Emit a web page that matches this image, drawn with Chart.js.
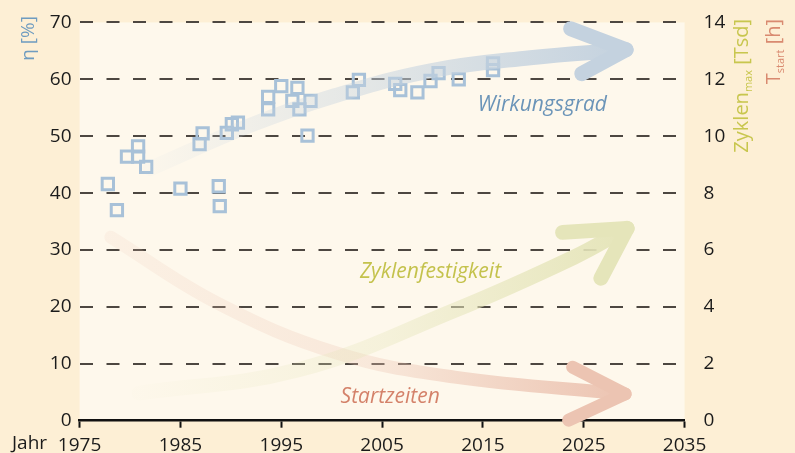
<!DOCTYPE html>
<html>
<head>
<meta charset="utf-8">
<script src="https://cdn.jsdelivr.net/npm/chart.js@4.4.1/dist/chart.umd.min.js"></script>
<style>
    html, body { margin: 0; padding: 0; background: #fdefd5; }
    #wrap { width: 795px; height: 453px; }
</style>
</head>
<body>
<div id="wrap"><canvas id="chart" width="795" height="453"></canvas></div>
<script>
// Messpunkte Wirkungsgrad (Jahr / eta in %)
var jahre = [1977.8, 1978.7, 1979.7, 1980.8, 1980.8, 1981.6, 1985.0, 1986.9, 1987.2, 1988.8, 1988.9,
    1989.6, 1990.1, 1990.7, 1993.7, 1993.7, 1995.0, 1996.1, 1996.6, 1996.8, 1997.6, 1997.9,
    2002.1, 2002.7, 2006.3, 2006.8, 2008.5, 2009.8, 2010.6, 2012.6, 2016.0, 2016.0];
var eta = [41.6, 37.0, 46.4, 48.2, 46.4, 44.6, 40.8, 48.6, 50.5, 41.2, 37.7,
    50.6, 52.1, 52.4, 56.9, 54.7, 58.8, 56.2, 58.5, 54.7, 50.1, 56.2,
    57.7, 59.9, 59.2, 58.1, 57.7, 59.7, 61.1, 60.0, 62.8, 61.6];

// Trendpfeile (Schaft + Spitze)
var wirkJahr = [1982.0, 1991.9, 2000.3, 2009.8, 2019.7, 2029.2];
var wirkWert = [44.3, 51.9, 57.1, 61.5, 63.8, 65.2];
var wirkSpitzeJahr = [2023.7, 2029.2, 2024.8];
var wirkSpitzeWert = [68.9, 65.2, 61.0];

var zyklJahr = [1980.9, 1996.6, 2012.2, 2024.0, 2029.3];
var zyklWert = [0.97, 1.78, 3.88, 5.74, 6.76];
var zyklSpitzeJahr = [2022.9, 2029.3, 2026.7];
var zyklSpitzeWert = [6.62, 6.76, 5.01];

var startJahr = [1978.1, 1988.7, 2000.5, 2012.2, 2029.1];
var startWert = [6.45, 4.13, 2.38, 1.53, 0.94];
var startSpitzeJahr = [2023.9, 2029.1, 2023.5];
var startSpitzeWert = [1.88, 0.94, 0.02];

// Achsen
var jahrTicks = [1975, 1985, 1995, 2005, 2015, 2025, 2035];
var etaTicks = [0, 10, 20, 30, 40, 50, 60, 70];
var rechtsTicks = [0, 2, 4, 6, 8, 10, 12, 14];

function punkte(xs, ys) {
    return xs.map(function (x, i) { return { x: x, y: ys[i] }; });
}

// Farbverlauf entlang des Pfeils
function verlauf(rgb, alphas, von, bis) {
    return function (context) {
        var chart = context.chart;
        if (!chart.chartArea) {
            return 'rgba(' + rgb + ',1)';
        }
        var sx = chart.scales.x;
        var g = chart.ctx.createLinearGradient(sx.getPixelForValue(von), 0, sx.getPixelForValue(bis), 0);
        alphas.forEach(function (a, i) {
            g.addColorStop(i / (alphas.length - 1), 'rgba(' + rgb + ',' + a + ')');
        });
        return g;
    };
}

var blau = '196,210,223', gelb = '229,229,186', rot = '236,196,178';

function schaft(xs, ys, achse, rgb, alphas, breite) {
    return {
        type: 'line', showLine: true, data: punkte(xs, ys), yAxisID: achse,
        borderColor: verlauf(rgb, alphas, xs[0], xs[xs.length - 1]),
        borderWidth: breite, borderCapStyle: 'round', borderJoinStyle: 'round',
        tension: 0.4, pointRadius: 0, clip: false, order: 1
    };
}
function spitze(xs, ys, achse, rgb, breite) {
    return {
        type: 'line', showLine: true, data: punkte(xs, ys), yAxisID: achse,
        borderColor: 'rgb(' + rgb + ')', borderWidth: breite,
        borderCapStyle: 'round', borderJoinStyle: 'round',
        tension: 0, pointRadius: 0, clip: false, order: 1
    };
}

var beschriftungen = [
    { text: 'Wirkungsgrad', x: 2020.9, y: 55.4, color: '#6b94b8' },
    { text: 'Zyklenfestigkeit', x: 2009.8, y: 26.1, color: '#c4c24c' },
    { text: 'Startzeiten', x: 2005.8, y: 4.2, color: '#d4826a' }
];

var hintergrund = {
    id: 'hintergrund',
    beforeDraw: function (chart) {
        var c = chart.ctx, a = chart.chartArea;
        c.save();
        c.fillStyle = '#fdefd5';
        c.fillRect(0, 0, chart.width, chart.height);
        c.fillStyle = '#fef8ec';
        c.fillRect(a.left, a.top, a.right - a.left, a.bottom - a.top);
        c.restore();
    }
};

function senkrecht(c, bx, ty, teile) {
    // teile: [text, schrift, versatz]
    c.save();
    c.translate(bx, ty);
    c.rotate(-Math.PI / 2);
    c.textAlign = 'left';
    c.textBaseline = 'alphabetic';
    var w = 0;
    teile.forEach(function (t) { c.font = t[1]; w += c.measureText(t[0]).width; });
    var x = -w;
    teile.forEach(function (t) {
        c.font = t[1];
        c.fillText(t[0], x, t[2]);
        x += c.measureText(t[0]).width;
    });
    c.restore();
}

var texte = {
    id: 'texte',
    afterDraw: function (chart) {
        var c = chart.ctx;
        var sx = chart.scales.x, sy = chart.scales.y;
        c.save();
        beschriftungen.forEach(function (b) {
            c.font = 'italic 21px "Open Sans"';
            c.fillStyle = b.color;
            c.textAlign = 'center';
            c.textBaseline = 'middle';
            c.fillText(b.text, sx.getPixelForValue(b.x), sy.getPixelForValue(b.y));
        });
        c.font = '19px "Open Sans"';
        c.fillStyle = '#1b1b1b';
        c.textAlign = 'left';
        c.textBaseline = 'middle';
        c.fillText('Jahr', 12, 443.5);

        c.fillStyle = '#6f9cc0';
        senkrecht(c, 34, 16, [['η [%]', '19px "Open Sans"', 0]]);
        c.fillStyle = '#c8c64e';
        senkrecht(c, 748, 19, [['Zyklen', '20px "Open Sans"', 0], ['max', '11px "Open Sans"', 4], [' [Tsd]', '20px "Open Sans"', 0]]);
        c.fillStyle = '#d98a70';
        senkrecht(c, 780, 19, [['T', '20px "Open Sans"', 0], ['start', '11px "Open Sans"', 4], [' [h]', '20px "Open Sans"', 0]]);
        c.restore();
    }
};

Chart.defaults.font.family = '"Open Sans", sans-serif';
Chart.defaults.font.size = 19;
Chart.defaults.color = '#1b1b1b';

var ctx = document.getElementById('chart').getContext('2d');
var chart = new Chart(ctx, {
    type: 'scatter',
    data: {
        datasets: [
            schaft(wirkJahr, wirkWert, 'y', blau, [0.05, 0.5, 1], 15),
            spitze(wirkSpitzeJahr, wirkSpitzeWert, 'y', blau, 15),
            schaft(zyklJahr, zyklWert, 'y2', gelb, [0.03, 0.35, 1], 15),
            spitze(zyklSpitzeJahr, zyklSpitzeWert, 'y2', gelb, 15),
            schaft(startJahr, startWert, 'y2', rot, [0.15, 0.3, 1], 13),
            spitze(startSpitzeJahr, startSpitzeWert, 'y2', rot, 13),
            {
                label: 'Wirkungsgrad',
                data: punkte(jahre, eta),
                yAxisID: 'y',
                pointStyle: 'rect',
                pointRadius: 8,
                pointHoverRadius: 8,
                borderWidth: 3,
                borderColor: '#a8c1d8',
                backgroundColor: 'rgba(0,0,0,0)',
                order: 2
            }
        ]
    },
    options: {
        responsive: false,
        animation: false,
        events: [],
        layout: { padding: { top: 21.7, left: 0, right: 0, bottom: 0 } },
        plugins: { legend: { display: false }, tooltip: { enabled: false } },
        scales: {
            x: {
                type: 'linear', min: 1975, max: 2035,
                afterBuildTicks: function (s) { s.ticks = jahrTicks.map(function (v) { return { value: v }; }); },
                afterFit: function (s) { s.height = 32.3; },
                ticks: { padding: 6, maxRotation: 0, autoSkip: false, callback: function (v) { return String(v); } },
                grid: { drawOnChartArea: false, drawTicks: true, tickLength: 7, tickWidth: 2, tickColor: '#111', color: '#111' },
                border: { display: true, color: '#111', width: 2.5 }
            },
            y: {
                position: 'left', min: 0, max: 70,
                afterBuildTicks: function (s) { s.ticks = etaTicks.map(function (v) { return { value: v }; }); },
                afterFit: function (s) { s.width = 79.6; },
                ticks: { padding: 8 },
                grid: {
                    drawTicks: false, lineWidth: 2,
                    color: function (c) { return c.tick && c.tick.value === 0 ? 'rgba(0,0,0,0)' : '#4d4741'; }
                },
                border: { display: false, dash: [13, 13.5] }
            },
            y2: {
                position: 'right', min: 0, max: 14,
                afterBuildTicks: function (s) { s.ticks = rechtsTicks.map(function (v) { return { value: v }; }); },
                afterFit: function (s) { s.width = 110.4; },
                ticks: { padding: 11 },
                grid: { display: false },
                border: { display: false }
            }
        }
    },
    plugins: [hintergrund, texte]
});
</script>
</body>
</html>
